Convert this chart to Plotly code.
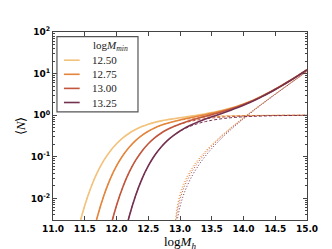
import plotly.graph_objects as go

# ---------------- data ----------------
labels = ["12.50", "12.75", "13.00", "13.25"]
colors = ["#f3c27c", "#e5853c", "#c2563c", "#74304f"]

logM = [11.3, 11.4, 11.5, 11.6, 11.7, 11.8, 11.9, 12.0, 12.1, 12.2, 12.3, 12.4,
        12.5, 12.6, 12.7, 12.8, 12.9, 13.0, 13.1, 13.2, 13.3, 13.4, 13.5, 13.6,
        13.7, 13.8, 13.9, 14.0, 14.1, 14.2, 14.3, 14.4, 14.5, 14.6, 14.7, 14.8,
        14.9, 15.0]

# central occupation (dashed)
cen_1250 = [3.62e-4, 0.00185, 0.00674, 0.0188, 0.0426, 0.0816, 0.1366, 0.2057, 0.2848,
            0.3687, 0.4528, 0.5329, 0.6065, 0.6723, 0.7294, 0.7783, 0.8195, 0.8536,
            0.8820, 0.9052, 0.9239, 0.9390, 0.9512, 0.9611, 0.9689, 0.9752, 0.9803,
            0.9843, 0.9875, 0.9901, 0.9921, 0.9937, 0.9950, 0.9960, 0.9968, 0.9975,
            0.9980, 0.9984]
cen_1275 = [None, None, None, 8.57e-4, 0.00366, 0.0116, 0.0290, 0.0601, 0.1072, 0.1696,
            0.2444, 0.3264, 0.4111, 0.4933, 0.5705, 0.6405, 0.7020, 0.7548, 0.7998,
            0.8376, 0.8687, 0.8941, 0.9150, 0.9318, 0.9454, 0.9564, 0.9652, 0.9723,
            0.9779, 0.9824, 0.9860, 0.9889, 0.9911, 0.9930, 0.9944, 0.9956, 0.9965,
            0.9972]
cen_1300 = [None, None, None, None, None, 3.62e-4, 0.00185, 0.00674, 0.0188, 0.0426,
            0.0816, 0.1366, 0.2057, 0.2848, 0.3687, 0.4528, 0.5329, 0.6065, 0.6723,
            0.7294, 0.7783, 0.8195, 0.8536, 0.8820, 0.9052, 0.9239, 0.9390, 0.9512,
            0.9611, 0.9689, 0.9752, 0.9803, 0.9843, 0.9875, 0.9901, 0.9921, 0.9937,
            0.9950]
cen_1325 = [None, None, None, None, None, None, None, None, 8.57e-4, 0.00366, 0.0116,
            0.0290, 0.0601, 0.1072, 0.1696, 0.2444, 0.3264, 0.4111, 0.4933, 0.5705,
            0.6405, 0.7020, 0.7548, 0.7998, 0.8376, 0.8687, 0.8941, 0.9150, 0.9318,
            0.9454, 0.9564, 0.9652, 0.9723, 0.9779, 0.9824, 0.9860, 0.9889, 0.9911]

# total occupation (solid)
tot_1250 = cen_1250[:17] + [0.8667, 0.9143, 0.9637, 1.0172, 1.0782, 1.1499, 1.2369,
                            1.3444, 1.4786, 1.6484, 1.8631, 2.1365, 2.487, 2.933,
                            3.504, 4.233, 5.167, 6.362, 7.890, 9.847, 12.35]
tot_1275 = cen_1275[:17] + [0.7663, 0.8291, 0.8917, 0.9564, 1.0266, 1.1061, 1.1992,
                            1.3118, 1.4501, 1.6230, 1.8404, 2.116, 2.467, 2.915,
                            3.487, 4.216, 5.152, 6.346, 7.875, 9.833, 12.34]
tot_1300 = cen_1300[:17] + [0.6158, 0.6969, 0.7765, 0.8569, 0.9410, 1.0319, 1.1351,
                            1.2561, 1.4008, 1.5789, 1.8004, 2.080, 2.434, 2.883,
                            3.456, 4.187, 5.124, 6.319, 7.846, 9.805, 12.31]
tot_1325 = cen_1325[:17] + [0.4174, 0.5114, 0.6074, 0.7052, 0.8060, 0.9125, 1.0293,
                            1.1623, 1.3171, 1.5034, 1.7319, 2.017, 2.374, 2.827,
                            3.403, 4.136, 5.074, 6.269, 7.798, 9.758, 12.26]

# satellite occupation (dotted)
logM_sat = [12.91, 12.92, 12.95, 13.0, 13.05, 13.1, 13.2, 13.3, 13.4, 13.5, 13.6, 13.7,
            13.8, 13.9, 14.0, 14.1, 14.2, 14.3, 14.4, 14.5, 14.6, 14.7, 14.8, 14.9, 15.0]
sat_1250 = [0.000955, 0.00204, 0.00573, 0.01305, 0.0219, 0.0323, 0.0585, 0.0933, 0.1392,
            0.1987, 0.2758, 0.3755, 0.5034, 0.6681, 0.8788, 1.149, 1.497, 1.941, 2.510,
            3.238, 4.171, 5.365, 6.892, 8.849, 11.35]
sat_1275 = [0.00082, 0.00176, 0.00499, 0.01154, 0.0196, 0.0293, 0.0541, 0.0877, 0.1325,
            0.1911, 0.2674, 0.3664, 0.4937, 0.6578, 0.8681, 1.138, 1.485, 1.929, 2.498,
            3.225, 4.159, 5.352, 6.879, 8.836, 11.34]
sat_1300 = [0.000627, 0.00135, 0.00390, 0.00927, 0.01614, 0.0246, 0.0471, 0.0786, 0.1215,
            0.1783, 0.2531, 0.3509, 0.4769, 0.6399, 0.8492, 1.119, 1.465, 1.908, 2.476,
            3.203, 4.136, 5.329, 6.854, 8.811, 11.31]
sat_1325 = [0.000388, 0.000848, 0.00252, 0.00629, 0.01141, 0.01806, 0.0369, 0.0647,
            0.1040, 0.1577, 0.2295, 0.3247, 0.4484, 0.6093, 0.8169, 1.085, 1.429, 1.871,
            2.438, 3.164, 4.096, 5.287, 6.812, 8.769, 11.27]

x_ticks = [11.0, 11.5, 12.0, 12.5, 13.0, 13.5, 14.0, 14.5, 15.0]
y_ticks = [0.01, 0.1, 1, 10, 100]
y_ticktext = ["10<sup>-2</sup>", "10<sup>-1</sup>", "10<sup>0</sup>",
              "10<sup>1</sup>", "10<sup>2</sup>"]

cens = [cen_1250, cen_1275, cen_1300, cen_1325]
tots = [tot_1250, tot_1275, tot_1300, tot_1325]
sats = [sat_1250, sat_1275, sat_1300, sat_1325]

# ---------------- figure ----------------
fig = go.Figure()
for lab, col, c, s in zip(labels, colors, cens, sats):
    fig.add_trace(go.Scatter(x=logM, y=c, mode="lines", showlegend=False,
                             line=dict(color=col, width=1, dash="3px,2px",
                                       shape="spline", smoothing=1)))
    fig.add_trace(go.Scatter(x=logM_sat, y=s, mode="lines", showlegend=False,
                             line=dict(color=col, width=1, dash="1px,2px",
                                       shape="spline", smoothing=1)))
for lab, col, t in zip(labels, colors, tots):
    fig.add_trace(go.Scatter(x=logM, y=t, mode="lines", name=lab, showlegend=False,
                             line=dict(color=col, width=1.6, shape="spline",
                                       smoothing=1)))

minor_y = [k * 10 ** e for e in range(-3, 2) for k in range(2, 10)]

axis_common = dict(showline=True, linecolor="#444444", linewidth=1, mirror="allticks",
                   ticks="inside", ticklen=4, tickcolor="#444444", showgrid=False,
                   zeroline=False,
                   tickfont=dict(family="DejaVu Sans", size=9, color="black",
                                 weight="bold"))

fig.update_xaxes(range=[11, 15], tickvals=x_ticks,
                 ticktext=[f"{v:.1f}" for v in x_ticks],
                 title=dict(text="log<i>M</i><sub><i>h</i></sub>", standoff=2,
                            font=dict(family="Liberation Serif", size=13,
                                      color="black")),
                 **axis_common)
fig.update_yaxes(type="log", range=[-2.52, 2], tickvals=y_ticks, ticktext=y_ticktext,
                 minor=dict(tickvals=minor_y, ticks="inside", ticklen=2,
                            tickcolor="#444444", showgrid=False),
                 title=dict(text="⟨<i>N</i>⟩", standoff=2,
                            font=dict(family="Liberation Serif", size=13,
                                      color="black")),
                 **axis_common)

# ---------------- legend (drawn in paper coordinates) ----------------
leg_font = dict(family="Liberation Serif", size=11, color="#222222")
shapes = [dict(type="rect", xref="paper", yref="paper", x0=0.0156, x1=0.3346,
               y0=0.575, y1=0.975, line=dict(color="#555555", width=1.2),
               fillcolor="white", layer="above")]
annotations = [dict(text="log<i>M</i><sub><i>min</i></sub>", xref="paper", yref="paper",
                    x=0.226, y=0.925, xanchor="center", yanchor="middle",
                    showarrow=False, font=leg_font)]
row_y = [0.85, 0.775, 0.70, 0.625]
for lab, col, ry in zip(labels, colors, row_y):
    shapes.append(dict(type="line", xref="paper", yref="paper", x0=0.043, x1=0.105,
                       y0=ry, y1=ry, line=dict(color=col, width=1.6), layer="above"))
    annotations.append(dict(text=lab, xref="paper", yref="paper", x=0.146, y=ry,
                            xanchor="left", yanchor="middle", showarrow=False,
                            font=leg_font))

fig.update_layout(
    width=332, height=249,
    margin=dict(l=42, r=33, t=24, b=25),
    paper_bgcolor="white", plot_bgcolor="white",
    showlegend=False,
    shapes=shapes, annotations=annotations,
)

fig.write_html("out.html")
